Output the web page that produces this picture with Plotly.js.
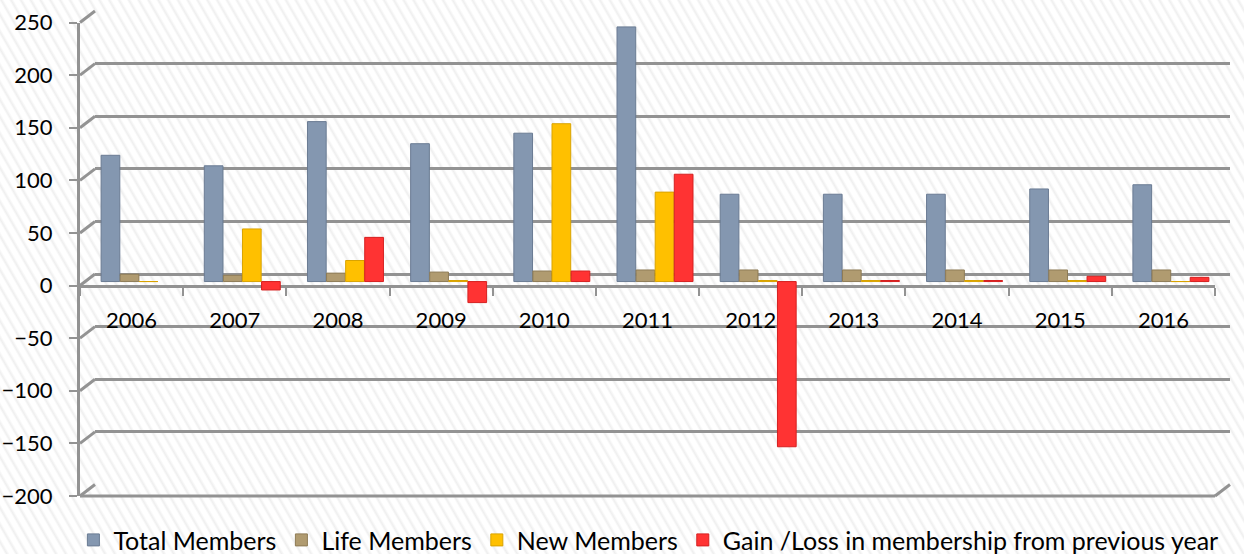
<!DOCTYPE html>
<html>
<head>
<meta charset="utf-8">
<script src="https://cdn.plot.ly/plotly-3.0.1.min.js"></script>
<style>
  html, body { margin:0; padding:0; }
  body {
    width:1244px; height:554px; overflow:hidden;
    background: repeating-linear-gradient(60deg, #ffffff 0px, #ffffff 4px, #efefef 6px, #ffffff 8.5px);
  }
  #chart { width:1244px; height:554px; }
</style>
</head>
<body>
<div id="chart"></div>
<script>
// ---- data ----
const years = ['2006','2007','2008','2009','2010','2011','2012','2013','2014','2015','2016'];
const totalMembers = [120, 110, 152, 131, 141, 242, 83, 83, 83, 88, 92];
const lifeMembers  = [7, 6, 8, 9, 10, 11, 11, 11, 11, 11, 11];
const newMembers   = [0, 50, 20, 1, 150, 85, 1, 1, 1, 1, 0];
const gainLoss     = [null, -8, 42, -20, 10, 102, -157, 1, 1, 5, 4];
const seriesNames  = ['Total Members', 'Life Members', 'New Members', 'Gain /Loss in membership from previous year'];
const yTicks = [-200, -150, -100, -50, 0, 50, 100, 150, 200, 250];

// ---- geometry (pixels) ----
const W = 1244, H = 554;
const mL = 80, mR = 14, mT = 11, mB = 58;
const plotW = W - mL - mR, plotH = H - mT - mB;
const depthX = 15, depthY = 11.5;          // back wall offset
const barDX = 7.5, barDY = 4;              // bars sit mid-depth
const frontW = plotW - depthX, frontH = plotH - depthY;

const xDomFront = [0, frontW / plotW];
const yDomFront = [0, frontH / plotH];
const xDomBack  = [depthX / plotW, 1];
const yDomBack  = [depthY / plotH, 1];
const xDomBar   = [barDX / plotW, (frontW + barDX) / plotW];
const yDomBar   = [barDY / plotH, (frontH + barDY) / plotH];
const yRange = [-200, 250];
const xRange = [-0.5, years.length - 0.5];
const frac = v => (v - yRange[0]) / (yRange[1] - yRange[0]);

const grid = '#939393';
const font = 'Lato, "Open Sans", sans-serif';

const colors = ['#8497b0', '#b09b70', '#ffc000', '#ff3333'];
const lines  = ['#6a7b93', '#8e7b55', '#d9a300', '#d62020'];
const vals = [totalMembers, lifeMembers, newMembers, gainLoss];

// subplot order = drawing order: xy (back wall grid), x2y2 (front axes), x3y3 (bars)
const traces = [
  {type:'scatter', mode:'none', x: years, y: years.map(() => null), xaxis:'x', yaxis:'y', showlegend:false, hoverinfo:'skip'},
  {type:'scatter', mode:'none', x: years, y: years.map(() => null), xaxis:'x2', yaxis:'y2', showlegend:false, hoverinfo:'skip'}
];
vals.forEach((v, i) => {
  traces.push({
    type:'bar', name: seriesNames[i], x: years, y: v,
    xaxis:'x3', yaxis:'y3',
    marker:{color: colors[i], line:{color: lines[i], width: 1}}
  });
});

// decorative 3D connectors (left side of each grid line, right bottom corner, front floor edge)
const shapes = [];
yTicks.forEach(v => {
  shapes.push({type:'line', xref:'paper', yref:'paper',
    x0: 0, y0: yDomFront[0] + frac(v) * (yDomFront[1] - yDomFront[0]),
    x1: xDomBack[0], y1: yDomBack[0] + frac(v) * (yDomBack[1] - yDomBack[0]),
    line:{color: grid, width: 3}, layer:'below'});
});
shapes.push({type:'line', xref:'paper', yref:'paper',
  x0: xDomFront[1], y0: yDomFront[0], x1: 1, y1: yDomBack[0],
  line:{color: grid, width: 3}, layer:'below'});
shapes.push({type:'line', xref:'paper', yref:'paper',
  x0: xDomFront[0], x1: xDomFront[1], y0: yDomFront[0], y1: yDomFront[0],
  line:{color: grid, width: 3}, layer:'below'});

const layout = {
  width: W, height: H,
  margin: {l: mL, r: mR, t: mT, b: mB},
  paper_bgcolor: 'rgba(0,0,0,0)', plot_bgcolor: 'rgba(0,0,0,0)',
  font: {family: font, size: 22, color: '#000'},
  barmode: 'group', bargap: 0.26, bargroupgap: 0.02,
  showlegend: true,
  legend: {orientation:'h', xref:'container', yref:'container', x: 0.059, y: 0.025,
           xanchor:'left', yanchor:'middle', font:{family: font, size: 25, color:'#000'},
           bgcolor:'rgba(0,0,0,0)', itemclick:false},
  // back wall
  xaxis: {type:'category', domain: xDomBack, anchor:'y', range: xRange,
          showticklabels:false, showline:false, showgrid:false, zeroline:false, ticks:''},
  yaxis: {domain: yDomBack, range: yRange, anchor:'x', tickvals: yTicks,
          showticklabels:false, showline:false, ticks:'',
          showgrid:true, gridcolor: grid, gridwidth: 3, zeroline:false},
  // front axes
  xaxis2: {type:'category', domain: xDomFront, anchor:'free', range: xRange,
          position: yDomFront[0] + frac(0) * (yDomFront[1] - yDomFront[0]),
          categoryorder:'array', categoryarray: years,
          showline:true, linecolor: grid, linewidth: 3,
          ticks:'outside', tickson:'boundaries', ticklen: 8, tickwidth: 2, tickcolor: grid,
          ticklabelstandoff: 14,
          showgrid:false, zeroline:false, fixedrange:true,
          tickfont:{family: font, size: 22, color:'#000'}},
  yaxis2: {domain: yDomFront, range: yRange, tickvals: yTicks, anchor:'x2',
          showline:true, linecolor: grid, linewidth: 3, showgrid:false, zeroline:false,
          ticks:'outside', ticklen: 8, tickwidth: 2, tickcolor: grid, ticklabelstandoff: 12,
          tickfont:{family: font, size: 22, color:'#000'}, fixedrange:true},
  // bars
  xaxis3: {type:'category', domain: xDomBar, anchor:'y3', range: xRange, visible:false},
  yaxis3: {domain: yDomBar, range: yRange, anchor:'x3', visible:false},
  shapes: shapes
};

Plotly.newPlot('chart', traces, layout, {displayModeBar:false, staticPlot:true});
</script>
</body>
</html>
